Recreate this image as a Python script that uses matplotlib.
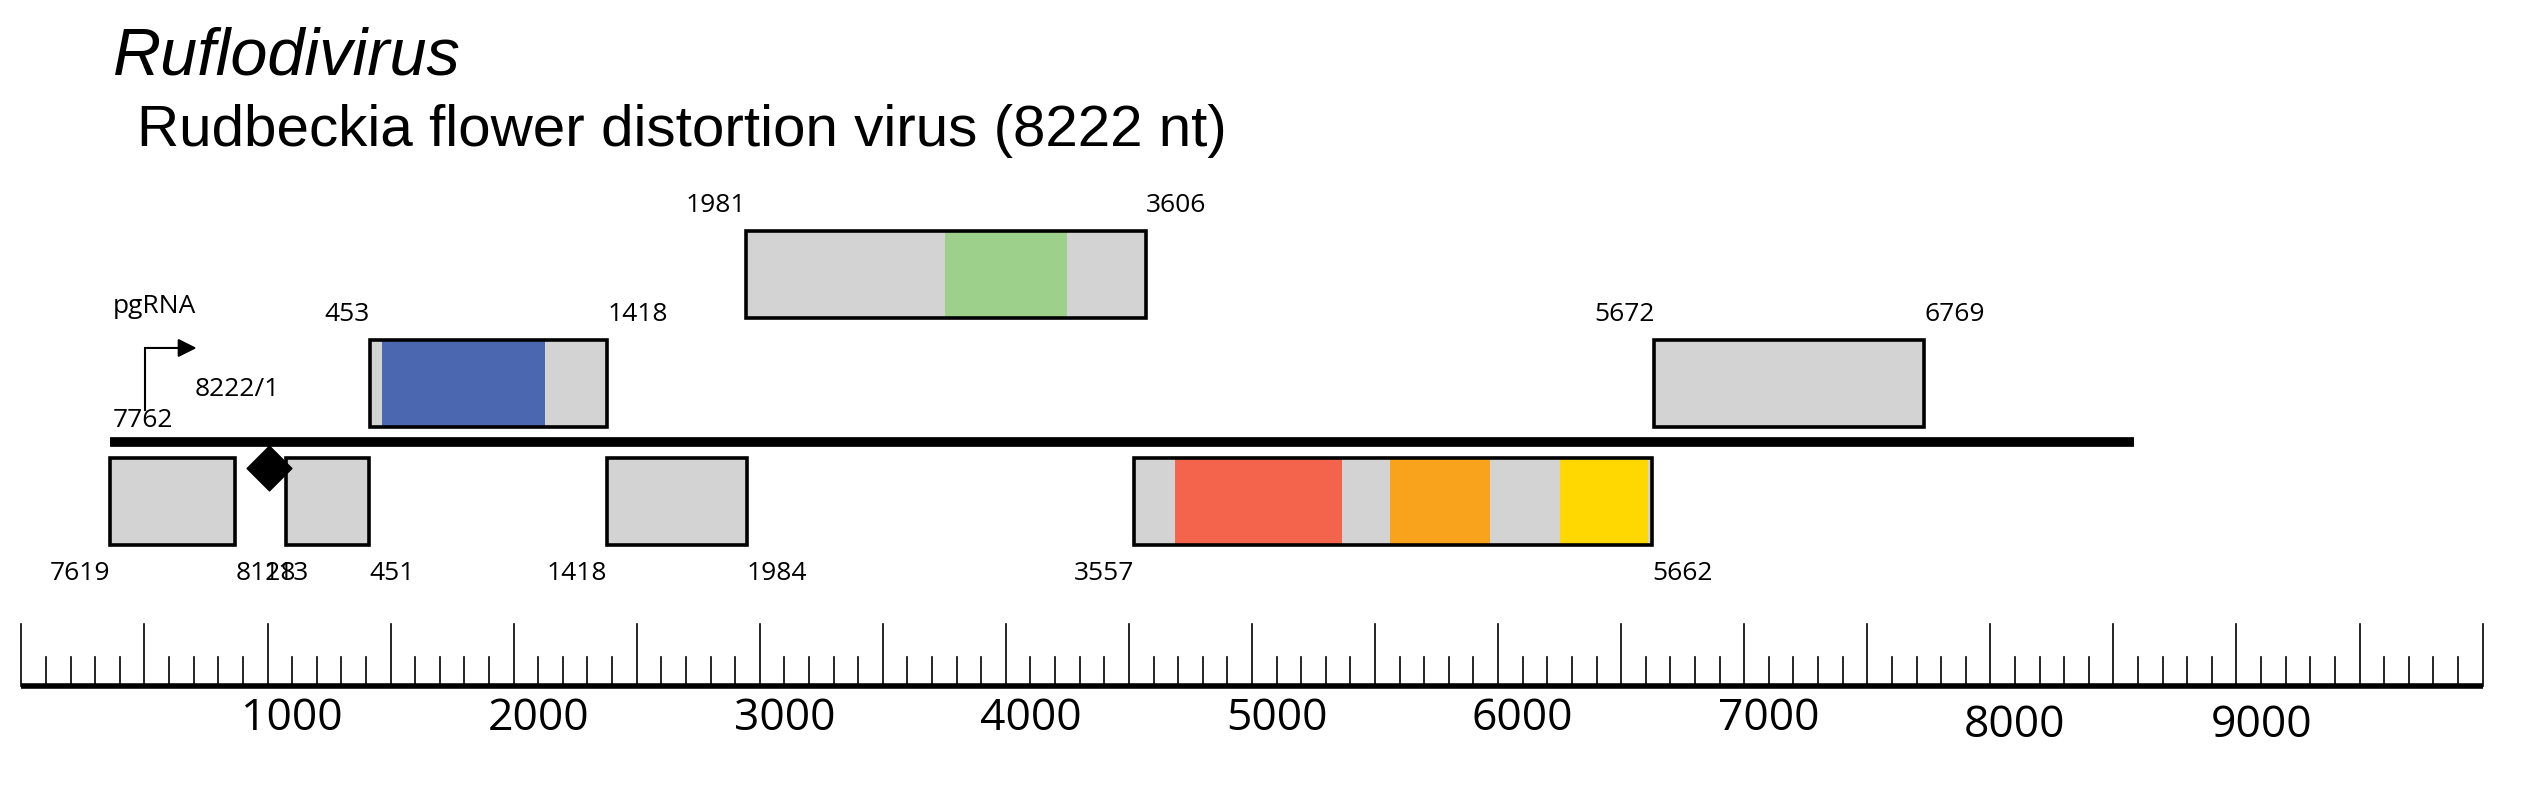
import matplotlib.pyplot as plt
from matplotlib.patches import Rectangle
import numpy as np

plt.rcParams['font.family'] = ['Open Sans', 'DejaVu Sans']

genome_len = 8222
line_start = 7619  # genome line drawn from this position, wrapping around 8222/1

# ORFs: (start, end, row top) above the line; below the line share one row
orfs_up = [(453, 1418, 207), (1981, 3606, 141), (5672, 6769, 207)]
orfs_down = [(7619, 8128), (113, 451), (1418, 1984), (3557, 5662)]

# coloured domains inside ORFs: (start, end, colour, row top)
domains = [
    (504, 1164, "#4a67b0", 207),
    (2790, 3284, "#9dd08b", 141),
    (3724, 4404, "#f4634b", 279),
    (4597, 5004, "#f9a21c", 279),
    (5290, 5644, "#fed800", 279),
]

ruler_labels = [1000, 2000, 3000, 4000, 5000, 6000, 7000, 8000, 9000]

BOX_H = 53
NUM_FS = 19


def gx(pos):
    # genome position -> ruler coordinate
    return (pos - line_start) % genome_len + 360


fig = plt.figure(figsize=(25.35, 8.01), dpi=100)
ax = fig.add_axes([0, 0, 1, 1])
ax.set_xlim(-87, 10213)
ax.set_ylim(488, 0)
ax.axis("off")

# titles
ax.text(gx(7619) + 10, 35, "Ruflodivirus", fontsize=48, style="italic",
        family="Liberation Sans", va="center")
ax.text(gx(7619) + 110, 80, "Rudbeckia flower distortion virus (8222 nt)",
        fontsize=42, family="Liberation Sans", va="center")

# genome line
end_line = gx(line_start) + genome_len
ax.plot([gx(line_start), end_line], [269, 269], color="black", lw=7, solid_capstyle="butt")


def draw_box(s, e, top):
    x0, x1 = gx(s), gx(e)
    ax.add_patch(Rectangle((x0, top), x1 - x0, BOX_H, facecolor="#d3d3d3",
                           edgecolor="none", zorder=2))
    return x0, x1


boxes = []
for s, e, top in orfs_up:
    boxes.append((s, e, top) + draw_box(s, e, top))
for s, e in orfs_down:
    boxes.append((s, e, 279) + draw_box(s, e, 279))

for s, e, c, top in domains:
    ax.add_patch(Rectangle((gx(s), top), gx(e) - gx(s), BOX_H, facecolor=c,
                           edgecolor="none", zorder=3))

for s, e, top, x0, x1 in boxes:
    ax.add_patch(Rectangle((x0, top), x1 - x0, BOX_H, facecolor="none",
                           edgecolor="black", lw=2.6, zorder=4))
    if top < 269:
        ax.text(x0, top - 8, str(s), fontsize=NUM_FS, ha="right", va="bottom")
        ax.text(x1, top - 8, str(e), fontsize=NUM_FS, ha="left", va="bottom")
    else:
        ha0 = "center" if s == 113 else "right"
        ax.text(x0, top + BOX_H + 10, str(s), fontsize=NUM_FS, ha=ha0, va="top")
        ax.text(x1, top + BOX_H + 10, str(e), fontsize=NUM_FS, ha="left", va="top")

# diamond marker
ax.scatter([gx(44)], [285], marker="D", s=520, color="black", zorder=5)

# promoter arrow
px = gx(7762)
ax.plot([px, px], [250, 212], color="black", lw=1.5)
ax.annotate("", xy=(px + 220, 212), xytext=(px - 5, 212),
            arrowprops=dict(arrowstyle="-|>", color="black", lw=1.5, mutation_scale=28))
ax.text(px - 130, 187, "pgRNA", fontsize=NUM_FS, va="center")
ax.text(px - 130, 256, "7762", fontsize=NUM_FS, va="center")
ax.text(px + 200, 237, "8222/1", fontsize=NUM_FS, va="center")

# ruler
ax.plot([0, 10000], [418, 418], color="black", lw=4, solid_capstyle="butt")
for r in np.arange(0, 10001, 100):
    top = 380 if r % 500 == 0 else 400
    ax.plot([r, r], [418, top], color="black", lw=1.2)
for v in ruler_labels:
    y = 438 if v < 8000 else 442
    ax.text(v + 100, y, str(v), fontsize=32, ha="center", va="center")

fig.savefig("out.png", dpi=100)
